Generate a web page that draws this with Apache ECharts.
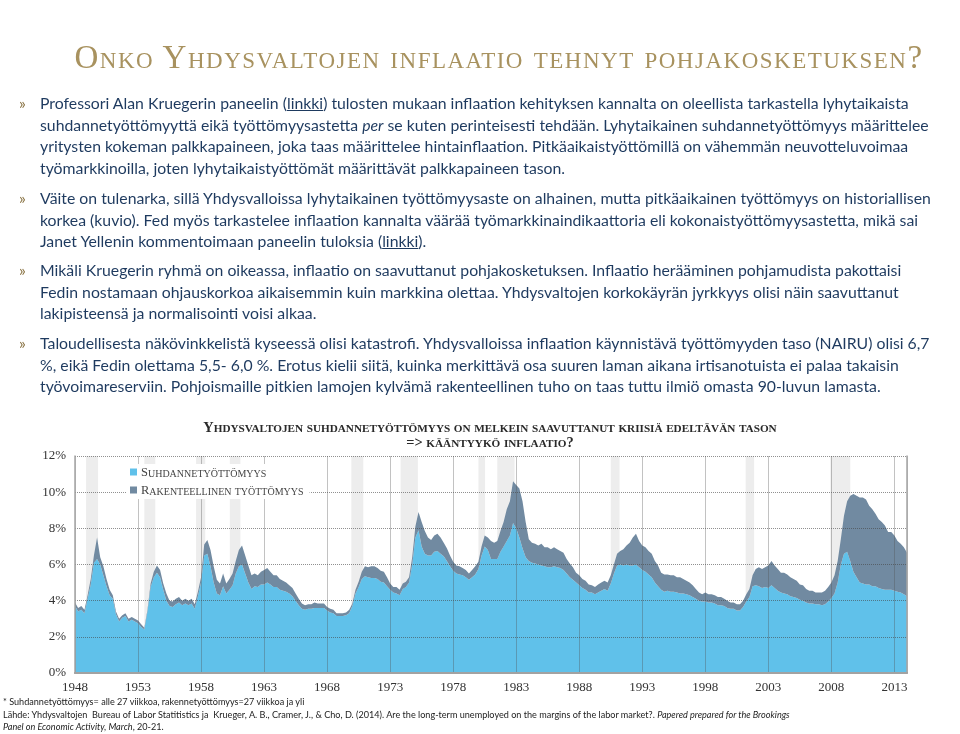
<!DOCTYPE html>
<html><head><meta charset="utf-8">
<script src="https://cdn.jsdelivr.net/npm/echarts@6/dist/echarts.min.js"></script>
<style>
html,body{margin:0;padding:0;background:#fff;width:960px;height:734px;overflow:hidden}
#chart{position:absolute;left:0;top:0;width:960px;height:734px}
#title{position:absolute;left:0;width:998px;text-align:center;top:37px;font-family:'Liberation Serif',serif;font-variant:small-caps;font-size:33px;letter-spacing:1.5px;line-height:40px;color:#a8925f;white-space:nowrap}
.p{position:absolute;left:40px;font-family:Lato,sans-serif;font-size:15.8px;line-height:21.5px;color:#1e3a5f;white-space:nowrap}
.p .b{position:absolute;left:-21px;top:0;color:#866f3e}
.p u{text-decoration:underline}
.fn{position:absolute;left:3px;font-family:Lato,sans-serif;font-size:9.1px;line-height:12.5px;color:#222;white-space:nowrap}
</style></head>
<body>
<div id="chart"></div>
<div id="title">Onko Yhdysvaltojen inflaatio tehnyt pohjakosketuksen?</div>
<div class="p" style="top:92px"><span class="b">»</span>Professori Alan Kruegerin paneelin (<u>linkki</u>) tulosten mukaan inflaation kehityksen kannalta on oleellista tarkastella lyhytaikaista<br>suhdannetyöttömyyttä eikä työttömyysastetta <i>per</i> se kuten perinteisesti tehdään. Lyhytaikainen suhdannetyöttömyys määrittelee<br>yritysten kokeman palkkapaineen, joka taas määrittelee hintainflaation. Pitkäaikaistyöttömillä on vähemmän neuvotteluvoimaa<br>työmarkkinoilla, joten lyhytaikaistyöttömät määrittävät palkkapaineen tason.</div>
<div class="p" style="top:187px"><span class="b">»</span>Väite on tulenarka, sillä Yhdysvalloissa lyhytaikainen työttömyysaste on alhainen, mutta pitkäaikainen työttömyys on historiallisen<br>korkea (kuvio). Fed myös tarkastelee inflaation kannalta väärää työmarkkinaindikaattoria eli kokonaistyöttömyysastetta, mikä sai<br>Janet Yellenin kommentoimaan paneelin tuloksia (<u>linkki</u>).</div>
<div class="p" style="top:259px"><span class="b">»</span>Mikäli Kruegerin ryhmä on oikeassa, inflaatio on saavuttanut pohjakosketuksen. Inflaatio herääminen pohjamudista pakottaisi<br>Fedin nostamaan ohjauskorkoa aikaisemmin kuin markkina olettaa. Yhdysvaltojen korkokäyrän jyrkkyys olisi näin saavuttanut<br>lakipisteensä ja normalisointi voisi alkaa.</div>
<div class="p" style="top:332px"><span class="b">»</span>Taloudellisesta näkövinkkelistä kyseessä olisi katastrofi. Yhdysvalloissa inflaation käynnistävä työttömyyden taso (NAIRU) olisi 6,7<br>%, eikä Fedin olettama 5,5- 6,0 %. Erotus kielii siitä, kuinka merkittävä osa suuren laman aikana irtisanotuista ei palaa takaisin<br>työvoimareserviin. Pohjoismaille pitkien lamojen kylvämä rakenteellinen tuho on taas tuttu ilmiö omasta 90-luvun lamasta.</div>
<div class="fn" style="top:696px">* Suhdannetyöttömyys= alle 27 viikkoa, rakennetyöttömyys=27 viikkoa ja yli<br>Lähde: Yhdysvaltojen&nbsp; Bureau of Labor Statitistics ja&nbsp; Krueger, A. B., Cramer, J., &amp; Cho, D. (2014). Are the long-term unemployed on the margins of the labor market?. <i>Papered prepared for the Brookings</i><br><i>Panel on Economic Activity, March</i>, 20-21.</div>
<script>
// Quarterly readings, starting 1948 Q1 (percent of labour force)
const startYear = 1948;
const shortTerm = [
3.7,3.4,3.5,3.3, 4.1,4.9,6.1,6.3, 6.0,5.4,4.8,4.3, 4.1,3.25,2.85,3.05, 3.15,2.85,2.95,2.85,
2.75,2.55,2.4,3.4, 4.75,5.3,5.55,5.3, 4.6,4.0,3.7,3.65, 3.8,3.9,3.75,3.85, 3.75,3.85,3.55,4.25,
5.0,6.5,6.6,5.9, 5.0,4.4,4.3,4.8, 4.4,4.6,4.85,5.5, 5.9,6.0,5.5,5.0, 4.65,4.8,4.75,4.9,
4.9,5.0,4.9,4.75, 4.75,4.6,4.55,4.5, 4.4,4.25,4.0,3.75, 3.55,3.5,3.55,3.55, 3.6,3.6,3.6,3.6,
3.45,3.35,3.3,3.15, 3.15,3.15,3.2,3.3, 3.7,4.4,4.75,5.2, 5.35,5.3,5.25,5.25, 5.2,5.05,5.0,4.8,
4.6,4.45,4.4,4.3, 4.65,4.75,5.0,6.0, 7.5,7.9,7.0,6.6, 6.5,6.5,6.7,6.75, 6.6,6.45,6.2,5.9,
5.65,5.5,5.45,5.4, 5.3,5.15,5.3,5.45, 5.75,6.5,7.0,6.8, 6.3,6.3,6.3,6.7, 7.0,7.3,7.6,8.3,
8.0,7.5,6.9,6.4, 6.2,6.1,6.05,6.0, 5.95,5.9,5.85,5.85, 5.9,5.85,5.8,5.7, 5.5,5.3,5.15,5.0,
4.85,4.7,4.6,4.45, 4.45,4.35,4.45,4.55, 4.65,4.55,4.95,5.5, 5.95,6.0,5.95,6.0, 5.95,5.95,6.0,5.85,
5.7,5.6,5.45,5.3, 5.0,4.8,4.6,4.5, 4.55,4.5,4.5,4.45, 4.4,4.4,4.35,4.3, 4.2,4.1,4.0,3.95,
3.95,3.9,3.9,3.85, 3.75,3.75,3.7,3.6, 3.55,3.55,3.45,3.45, 3.65,3.95,4.2,4.8, 4.85,4.8,4.7,4.75,
4.7,4.85,4.7,4.55, 4.45,4.4,4.35,4.25, 4.2,4.15,4.05,4.0, 3.9,3.85,3.85,3.8, 3.8,3.75,3.8,3.95,
4.15,4.4,5.0,6.0, 6.6,6.7,6.2,5.6, 5.3,5.0,4.95,4.9, 4.9,4.8,4.8,4.7, 4.65,4.6,4.6,4.6,
4.55,4.5,4.45,4.35, 4.25
];
const longTerm = [
0.2,0.2,0.2,0.2, 0.2,0.3,0.4,1.2, 0.4,0.5,0.4,0.3, 0.2,0.15,0.15,0.15, 0.15,0.15,0.15,0.15,
0.15,0.15,0.1,0.1, 0.2,0.3,0.4,0.4, 0.35,0.4,0.3,0.3, 0.3,0.3,0.25,0.25, 0.25,0.25,0.25,0.25,
0.3,0.6,0.75,0.9, 0.9,0.75,0.65,0.7, 0.55,0.6,0.65,0.7, 0.9,1.05,1.0,0.95, 0.75,0.7,0.65,0.7,
0.8,0.8,0.7,0.65, 0.65,0.6,0.55,0.5, 0.45,0.45,0.4,0.35, 0.3,0.25,0.25,0.25, 0.3,0.25,0.25,0.25,
0.2,0.2,0.2,0.15, 0.15,0.15,0.15,0.2, 0.15,0.2,0.3,0.4, 0.55,0.55,0.65,0.65, 0.6,0.6,0.6,0.5,
0.35,0.3,0.35,0.3, 0.3,0.3,0.3,0.4, 0.6,1.0,1.35,1.25, 1.0,0.85,0.9,0.95, 0.9,0.75,0.7,0.6,
0.5,0.45,0.45,0.4, 0.4,0.35,0.4,0.45, 0.4,0.5,0.6,0.7, 1.0,0.9,1.0,1.15, 1.35,1.75,1.9,2.3,
2.4,2.7,2.6,1.95, 1.2,1.1,1.1,1.05, 1.2,1.05,1.1,1.0, 1.05,1.0,0.95,0.95, 0.8,0.75,0.7,0.55,
0.55,0.5,0.5,0.45, 0.4,0.4,0.45,0.45, 0.45,0.45,0.45,0.5, 0.65,0.75,0.9,1.05, 1.25,1.55,1.7,1.45,
1.35,1.35,1.3,1.3, 1.2,1.15,0.95,0.95, 0.9,0.9,0.9,0.85, 0.9,0.8,0.75,0.7, 0.65,0.55,0.45,0.4,
0.5,0.45,0.45,0.45, 0.45,0.45,0.4,0.4, 0.35,0.35,0.35,0.35, 0.35,0.4,0.45,0.6, 0.9,1.05,1.05,1.1,
1.25,1.35,1.25,1.2, 1.1,1.15,1.1,1.05, 1.0,0.95,0.85,0.85, 0.75,0.7,0.7,0.65, 0.65,0.7,0.75,0.8,
0.85,1.0,1.2,1.4, 2.1,2.8,3.6,4.3, 4.5,4.7,4.75,4.7, 4.35,4.25,4.0,3.8, 3.7,3.55,3.2,3.2,
3.05,2.8,2.7,2.6, 2.4
];
// NBER recessions [start, end] in decimal years
const recessions = [
[1948.875,1949.83],[1953.5,1954.37],[1957.6,1958.33],[1960.28,1961.12],[1969.92,1970.87],
[1973.83,1975.2],[1980.0,1980.53],[1981.5,1982.87],[1990.5,1991.2],[2001.2,2001.87],[2007.92,2009.5]
];
const seriesNames = ['Suhdannetyöttömyys','Rakenteellinen työttömyys'];
const chartTitle = ['Yhdysvaltojen suhdannetyöttömyys on melkein saavuttanut kriisiä edeltävän tason','=> kääntyykö inflaatio?'];
const yTicks = {min:0, max:12, interval:2};
const xTicks = {min:1948, max:2014, interval:5};

// quarter positions (category labels for the stacked areas)
const dates = shortTerm.map((_, i) => startYear + i / 4);

function smallCaps(str, big, small) {
  let out = '', cur = null, buf = '';
  for (const ch of str) {
    const low = ch !== ch.toUpperCase();
    const st = low ? small : big;
    const c = low ? ch.toUpperCase() : ch;
    if (st !== cur) { if (buf) out += '{' + cur + '|' + buf + '}'; buf = ''; cur = st; }
    buf += c;
  }
  if (buf) out += '{' + cur + '|' + buf + '}';
  return out;
}

const serif = "'Liberation Serif', 'DejaVu Serif', serif";
const cBlue = '#60c1ea', cDark = '#718aa1';
const chart = echarts.init(document.getElementById('chart'), null, {renderer:'canvas'});
chart.setOption({
  backgroundColor: '#fff',
  animation: false,
  title: {
    text: chartTitle.map(t => smallCaps(t, 'b', 's')).join('\n'),
    left: 490, top: 420, textAlign: 'center', padding: 0,
    textStyle: {
      rich: {
        b: {fontFamily: serif, fontWeight: 'bold', fontSize: 14.4, color: '#2a2a2a', lineHeight: 15, verticalAlign: 'bottom'},
        s: {fontFamily: serif, fontWeight: 'bold', fontSize: 11.2, color: '#2a2a2a', lineHeight: 15, verticalAlign: 'bottom'}
      }
    }
  },
  legend: {
    data: seriesNames, orient: 'vertical', left: 126, top: 464,
    backgroundColor: '#fff', padding: [2, 6, 2, 4], itemGap: 5,
    itemWidth: 7, itemHeight: 7, icon: 'rect', selectedMode: false, z: 10,
    formatter: n => smallCaps(n, 'b', 's'),
    textStyle: {
      padding: [0, 0, 0, -1],
      rich: {
        b: {fontFamily: serif, fontSize: 12.5, color: '#444', lineHeight: 14, verticalAlign: 'bottom'},
        s: {fontFamily: serif, fontSize: 10, color: '#444', lineHeight: 14, verticalAlign: 'bottom'}
      }
    }
  },
  grid: {left: 75, top: 456, width: 832, height: 217, containLabel: false},
  xAxis: [{
    type: 'value', min: xTicks.min, max: xTicks.max, interval: xTicks.interval, z: 5,
    axisLine: {show: true, onZero: false, lineStyle: {color: '#9b9b9b', width: 2}},
    axisTick: {show: false},
    axisLabel: {margin: 8, fontFamily: serif, fontSize: 13, color: '#333', showMaxLabel: false,
      formatter: v => ((v - xTicks.min) % xTicks.interval === 0 ? String(v) : '')},
    splitLine: {show: true, lineStyle: {color: 'rgba(80,80,80,0.35)', width: 1}}
  }, {
    type: 'category', position: 'top', data: dates, boundaryGap: false, z: 5,
    axisLine: {show: true, lineStyle: {color: '#a5a5a5', width: 1.5}},
    axisTick: {show: false}, axisLabel: {show: false}, splitLine: {show: false}
  }],
  yAxis: [{
    type: 'value', min: yTicks.min, max: yTicks.max, interval: yTicks.interval, z: 5,
    axisLine: {show: true, lineStyle: {color: '#a5a5a5', width: 1.5}},
    axisTick: {show: false},
    axisLabel: {margin: 9, fontFamily: serif, fontSize: 13, color: '#333', formatter: '{value}%'},
    splitLine: {show: true, lineStyle: {color: 'rgba(70,70,70,0.6)', width: 1, type: [1, 1]}}
  }, {
    type: 'value', position: 'right', min: yTicks.min, max: yTicks.max, z: 5,
    axisLine: {show: true, lineStyle: {color: '#a5a5a5', width: 1.5}},
    axisTick: {show: false}, axisLabel: {show: false}, splitLine: {show: false}
  }],
  series: [{
    name: seriesNames[0], type: 'line', stack: 'u', symbol: 'none', z: 2,
    xAxisIndex: 1, yAxisIndex: 0,
    data: shortTerm,
    itemStyle: {color: cBlue}, lineStyle: {width: 0, color: cBlue},
    areaStyle: {color: cBlue, opacity: 1}
  }, {
    name: seriesNames[1], type: 'line', stack: 'u', symbol: 'none', z: 2,
    xAxisIndex: 1, yAxisIndex: 0,
    data: longTerm,
    itemStyle: {color: cDark}, lineStyle: {width: 0, color: cDark},
    areaStyle: {color: cDark, opacity: 1}
  }, {
    type: 'line', data: [], z: 3, silent: true, xAxisIndex: 0, yAxisIndex: 0,
    markArea: {silent: true, itemStyle: {color: 'rgba(200,200,200,0.32)'},
      data: recessions.map(r => [{xAxis: r[0]}, {xAxis: r[1]}])}
  }]
});
</script>
</body></html>
